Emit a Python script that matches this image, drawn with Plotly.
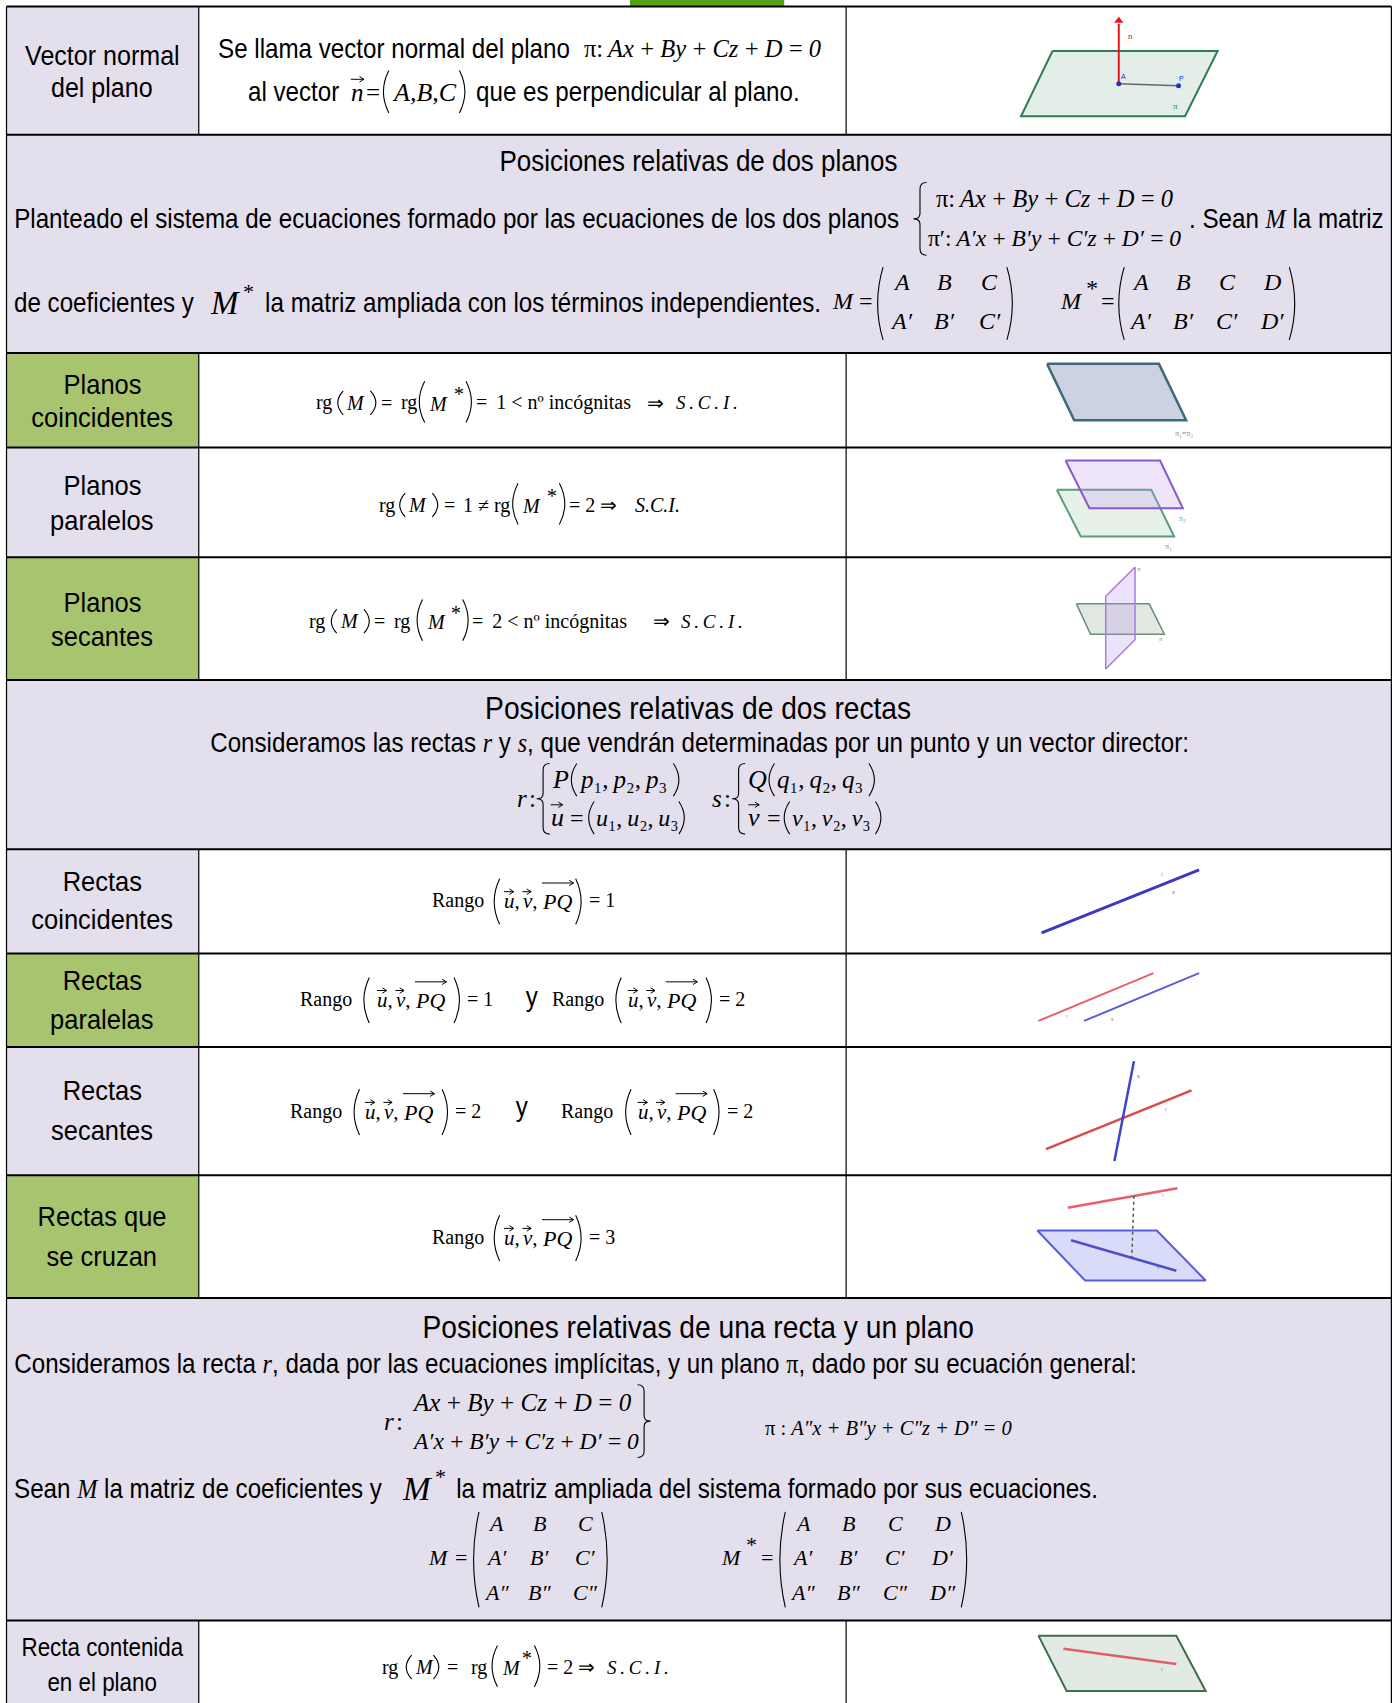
import plotly.graph_objects as go

# axis units are the 1288x1568 reading of the page
WIDTH, HEIGHT = 1399, 1703
SANS = "Liberation Sans"
SERIF = "Liberation Serif"
LAVENDER = "#E4DFEC"
GREEN = "#A9C46F"
TH = "\u2009"

ROW_EDGES = [6, 124, 325, 412, 513, 626, 782, 878, 964, 1082, 1195, 1492, 1568]
ROW_LABELS = [
    ["Vector normal", "del plano"],
    None,
    ["Planos", "coincidentes"],
    ["Planos", "paralelos"],
    ["Planos", "secantes"],
    None,
    ["Rectas", "coincidentes"],
    ["Rectas", "paralelas"],
    ["Rectas", "secantes"],
    ["Rectas que", "se cruzan"],
    None,
    ["Recta contenida", "en el plano"],
]
ROW_FILLS = ["L", "S", "G", "L", "G", "S", "L", "G", "L", "G", "S", "L"]
LABEL_Y = [[51, 81], None, [354, 384], [447, 479], [554, 586], None,
           [811, 846], [902, 938], [1004, 1040], [1120, 1156], None, [1516, 1549]]
LABEL_SIZE = [28, 0, 28.5, 28.5, 28.5, 0, 28.5, 28.5, 28.5, 28.5, 0, 25]

TITLE_PLANOS = "Posiciones relativas de dos planos"
TITLE_RECTAS = "Posiciones relativas de dos rectas"
TITLE_MIXTO = "Posiciones relativas de una recta y un plano"

# sketches: vertices
PLANE_N_X, PLANE_N_Y = [969, 1121, 1091, 940], [47, 47, 107, 107]
COINC_X, COINC_Y = [964, 1067, 1092, 989], [335, 335, 387, 387]
PAR_TOP_X, PAR_TOP_Y = [981, 1068, 1089, 1003], [424, 424, 468, 468]
PAR_LOW_X, PAR_LOW_Y = [973, 1060, 1081, 995], [451, 451, 494, 494]
SEC_H_X, SEC_H_Y = [991, 1058, 1072, 1004], [556, 556, 584, 584]
SEC_V_X, SEC_V_Y = [1045, 1045, 1018, 1018], [522, 589, 616, 549]
CRUZ_X, CRUZ_Y = [955, 1065, 1110, 999], [1133, 1133, 1179, 1179]
CONT_X, CONT_Y = [956, 1083, 1110, 982], [1506, 1506, 1557, 1557]

fig = go.Figure()


def txt(x, y, s, size=27, font=SANS, anchor="left", color="black", style="normal"):
    fig.add_annotation(x=x, y=y, text=s, showarrow=False, xanchor=anchor, yanchor="middle",
                       font=dict(family=font, size=size, color=color, style=style), borderpad=0)


def math(x, y, s, size=20, anchor="left"):
    txt(x, y, s, size=size, font=SERIF, anchor=anchor)


def ital(x, y, s, size=20, anchor="left"):
    txt(x, y, s, size=size, font=SERIF, anchor=anchor, style="italic")


def it(s):
    return '<span style="font-family:Liberation Serif;font-style:italic">%s</span>' % s


def triple(letter):
    return f"{it(letter)}₁,{TH}{it(letter)}₂,{TH}{it(letter)}₃"


def path(d, width=1.1, color="black"):
    fig.add_shape(type="path", path=d, xref="x", yref="y", line=dict(color=color, width=width))


def paren(x, y0, y1, side="l"):
    # x is the outer edge of the curve
    d = 5 if side == "l" else -5
    ym = (y0 + y1) / 2
    path(f"M {x + d} {y0} Q {x - d} {ym} {x + d} {y1}")


def brace(x, y0, y1, side="l"):
    d = 6 if side == "l" else -6
    ym = (y0 + y1) / 2
    path(f"M {x + d} {y0} Q {x} {y0} {x} {y0 + 6} L {x} {ym - 5} Q {x} {ym} {x - d} {ym} "
         f"Q {x} {ym} {x} {ym + 5} L {x} {y1 - 6} Q {x} {y1} {x + d} {y1}")


def vec(x0, x1, y):
    path(f"M {x0} {y} L {x1} {y} M {x1 - 4} {y - 2.5} L {x1} {y} L {x1 - 4} {y + 2.5}", width=1)


def poly(xs, ys, fill, stroke, width=2):
    fig.add_trace(go.Scatter(x=xs + xs[:1], y=ys + ys[:1], mode="lines", fill="toself",
                             fillcolor=fill, line=dict(color=stroke, width=width),
                             hoverinfo="skip", showlegend=False))


def seg(xs, ys, color, width=2.5, dash=None):
    fig.add_trace(go.Scatter(x=xs, y=ys, mode="lines", line=dict(color=color, width=width, dash=dash),
                             hoverinfo="skip", showlegend=False))


def rect(x0, x1, y0, y1, color):
    fig.add_shape(type="rect", x0=x0, x1=x1, y0=y0, y1=y1, fillcolor=color,
                  line_width=0, layer="below")


def hline(y, x0=6, x1=1281, width=2):
    fig.add_shape(type="line", x0=x0, x1=x1, y0=y, y1=y, line=dict(color="black", width=width))


def vline(x, y0, y1, width=1.2):
    fig.add_shape(type="line", x0=x, x1=x, y0=y0, y1=y1, line=dict(color="black", width=width))


def rango(x, y, opening, close, start, value):
    # Rango(u, v, PQ) = value
    math(x, y, "Rango", 20)
    paren(opening, y - 20, y + 22)
    math(start, y + 1, it("u") + ",", 21)
    vec(start + 1, start + 10, y - 8)
    math(start + 18, y + 1, it("v") + ",", 21)
    vec(start + 18, start + 26, y - 8)
    ital(start + 35, y + 1, "PQ", 22)
    vec(start + 36, start + 65, y - 16)
    paren(close, y - 20, y + 22, "r")
    math(close + 6, y, "= " + value, 20)


def rg_plain(xrg, xm, xclose, xeq, y):
    math(xrg, y, "rg", 20)
    paren(xm, y - 11, y + 11)
    ital(xm + 7, y, "M", 20)
    paren(xclose, y - 11, y + 11, "r")
    math(xeq, y, "=", 20)


def rg_star(xrg, xo, xc, y):
    math(xrg, y, "rg", 20)
    paren(xo, y - 20, y + 18)
    ital(xo + 8, y + 1, "M", 20)
    ital(xc - 18, y - 8, "*", 20)
    paren(xc, y - 20, y + 18, "r")


def matrix(cols, rows, entries, size=23):
    for row, y in zip(entries, rows):
        for s, x in zip(row, cols):
            ital(x, y, s, size, anchor="center")


# backgrounds
fig.add_shape(type="rect", x0=580, x1=722, y0=0, y1=6, fillcolor="#57A01A", line_width=0, layer="below")
for i, kind in enumerate(ROW_FILLS):
    y0, y1 = ROW_EDGES[i], ROW_EDGES[i + 1]
    if kind == "S":
        rect(6, 1281, y0, y1, LAVENDER)
    else:
        rect(6, 183, y0, y1, LAVENDER if kind == "L" else GREEN)
        vline(183, y0, y1)
        vline(779, y0, y1)
for y in ROW_EDGES[:-1]:
    hline(y)
vline(6, 6, 1568)
vline(1281, 6, 1568)

for labels, ys, size in zip(ROW_LABELS, LABEL_Y, LABEL_SIZE):
    if labels:
        for s, y in zip(labels, ys):
            txt(94, y, s, size=size, anchor="center")

# vector normal
txt(200, 45, "Se llama vector normal del plano")
math(537, 45, "π:" + TH + it(TH.join("Ax + By + Cz + D = 0".split())), 24.5)
txt(227, 85, "al vector")
ital(322, 85, "n", 25)
math(336, 85, "=", 25)
vec(323, 335, 73)
paren(353, 65, 104)
ital(360, 85, "A,B,C", 26)
paren(428, 65, 104, "r")
txt(437, 85, "que es perpendicular al plano.")

# dos planos
txt(643, 148, TITLE_PLANOS, size=29, anchor="center")
txt(12, 202, "Planteado el sistema de ecuaciones formado por las ecuaciones de los dos planos")
brace(847, 168, 235)
math(861, 183, "π:" + TH + it(TH.join("Ax + By + Cz + D = 0".split())), 24.5)
math(853, 219, "π′:" + TH + it(TH.join("A′x + B′y + C′z + D′ = 0".split())), 23.5)
txt(1094, 202, ". Sean " + it("M") + " la matriz")
txt(12, 279, "de coeficientes y")
ital(192, 279, "M", 33)
ital(222, 268, "*", 22)
txt(243, 279, "la matriz ampliada con los términos independientes.")
ital(765, 277, "M", 24)
math(790, 277, "=", 24)
paren(808, 246, 313)
matrix([830, 870, 911], [260, 296], [["A", "B", "C"], ["A′", "B′", "C′"]], 24)
paren(932, 246, 313, "r")
ital(975, 277, "M", 24)
ital(998, 265, "*", 24)
math(1013, 277, "=", 24)
paren(1030, 246, 313)
matrix([1050, 1090, 1130, 1171], [260, 296],
       [["A", "B", "C", "D"], ["A′", "B′", "C′", "D′"]], 24)
paren(1192, 246, 313, "r")

rg_plain(290, 311, 346, 350, 371)
rg_star(368, 386, 434, 371)
math(437, 371, "=" + TH + " 1 &lt; nº incógnitas", 20)
math(595, 371, "⇒", 20)
ital(621, 371, TH.join("S.C.I."), 19)

rg_plain(348, 368, 403, 408, 465)
math(425, 465, "1 ≠", 20)
rg_star(454, 472, 520, 465)
math(523, 465, "= 2 ⇒", 20)
ital(584, 465, "S.C.I.", 20)

rg_plain(284, 305, 340, 343, 572)
rg_star(362, 384, 431, 572)
math(434, 572, "=" + TH + " 2 &lt; nº incógnitas", 20)
math(600, 572, "⇒", 20)
ital(626, 572, TH.join("S.C.I."), 19)

# dos rectas
txt(643, 652, TITLE_RECTAS, size=31.5, anchor="center")
txt(192, 684, "Consideramos las rectas " + it("r") + " y " + it("s")
    + ", que vendrán determinadas por un punto y un vector director:")
ital(475, 735, "r", 25)
math(486, 735, ":", 25)
brace(500, 703, 768)
ital(507, 718, "P", 26)
paren(526, 703, 733)
math(532, 718, triple("p"), 25)
paren(625, 703, 733, "r")
ital(506, 753, "u", 26)
vec(507, 518, 741)
math(524, 753, "=", 24)
paren(542, 738, 768)
math(548, 753, triple("u"), 24)
paren(630, 738, 768, "r")
ital(655, 735, "s", 25)
math(666, 735, ":", 25)
brace(680, 703, 768)
ital(688, 718, "Q", 26)
paren(708, 703, 733)
math(714, 718, triple("q"), 25)
paren(805, 703, 733, "r")
ital(688, 753, "v", 26)
vec(689, 699, 741)
math(705, 753, "=", 24)
paren(722, 738, 768)
math(728, 753, triple("v"), 24)
paren(811, 738, 768, "r")

rango(397, 829, 455, 535, 463, "1")
rango(275, 920, 335, 423, 346, "1")
txt(490, 918, "y", anchor="center")
rango(507, 920, 567, 655, 577, "2")
rango(266, 1023, 326, 412, 335, "2")
txt(481, 1019, "y", anchor="center")
rango(516, 1023, 576, 662, 586, "2")
rango(397, 1139, 455, 535, 463, "3")

# recta y plano
txt(643, 1222, TITLE_MIXTO, size=31.5, anchor="center")
txt(12, 1256, "Consideramos la recta " + it("r") + ", dada por las ecuaciones implícitas, y un plano "
    + '<span style="font-family:Liberation Serif">π</span>' + ", dado por su ecuación general:")
ital(353, 1309, "r", 25)
math(364, 1309, ":", 25)
ital(378, 1291, TH.join("Ax + By + Cz + D = 0".split()), 25)
ital(378, 1327, TH.join("A′x + B′y + C′z + D′ = 0".split()), 23.5)
brace(593, 1275, 1342, "r")
math(703, 1315, "π : " + it("A″x + B″y + C″z + D″ = 0"), 20.5)
txt(12, 1371, "Sean " + it("M") + " la matriz de coeficientes y")
ital(369, 1371, "M", 33)
ital(399, 1359, "*", 22)
txt(419, 1371, "la matriz ampliada del sistema formado por sus ecuaciones.")
ital(393, 1434, "M", 22)
math(418, 1434, "=", 22)
paren(436, 1392, 1480)
matrix([457, 497, 539], [1403, 1434, 1466],
       [["A", "B", "C"], ["A′", "B′", "C′"], ["A″", "B″", "C″"]], 22)
paren(559, 1392, 1480, "r")
ital(663, 1434, "M", 22)
ital(685, 1422, "*", 22)
math(700, 1434, "=", 22)
paren(718, 1392, 1480)
matrix([739, 781, 824, 868], [1403, 1434, 1466],
       [["A", "B", "C", "D"], ["A′", "B′", "C′", "D′"], ["A″", "B″", "C″", "D″"]], 22)
paren(890, 1392, 1480, "r")

rg_plain(351, 374, 404, 411, 1535)
rg_star(433, 453, 497, 1535)
math(503, 1535, "= 2 ⇒", 20)
ital(558, 1535, TH.join("S.C.I."), 19)

# sketches
poly(PLANE_N_X, PLANE_N_Y, "#E3EEE8", "#2E7D55")
seg([1030, 1030], [77, 22], "#E8141C", 2)
fig.add_trace(go.Scatter(x=[1030], y=[19], mode="markers", hoverinfo="skip", showlegend=False,
                         marker=dict(symbol="triangle-up", size=8, color="#E8141C")))
seg([1030, 1085], [77, 79], "#666666", 1.5)
fig.add_trace(go.Scatter(x=[1030, 1085], y=[77, 79], mode="markers", hoverinfo="skip", showlegend=False,
                         marker=dict(size=5, color="#2030C0")))
txt(1041, 33, "n", size=9, font=SERIF, anchor="center", color="#E8141C")
txt(1034, 70, "A", size=7, anchor="center", color="#2030C0")
txt(1088, 72, "P", size=7, anchor="center", color="#2030C0")
txt(1082, 98, "π", size=9, font=SERIF, anchor="center", color="#2E7D55")

poly(COINC_X, COINC_Y, "#CDD2E2", "#3F6B78", 2.5)
txt(1090, 399, "π₁=π₂", size=8, font=SERIF, anchor="center", color="#8A8A8A")

poly(PAR_LOW_X, PAR_LOW_Y, "rgba(165,205,180,0.28)", "#5E9C7C")
poly(PAR_TOP_X, PAR_TOP_Y, "rgba(190,150,240,0.25)", "#8A58D0")
txt(1089, 477, "π₂", size=8, font=SERIF, anchor="center", color="#8A8A8A")
txt(1076, 503, "π₁", size=8, font=SERIF, anchor="center", color="#8A8A8A")

poly(SEC_H_X, SEC_H_Y, "rgba(170,190,170,0.35)", "#6E8C7C", 1.5)
poly(SEC_V_X, SEC_V_Y, "rgba(190,150,240,0.28)", "#A67CE0", 1.5)
txt(1049, 524, "π", size=7, font=SERIF, anchor="center", color="#8A8A8A")
txt(1069, 588, "π", size=7, font=SERIF, anchor="center", color="#8A8A8A")

seg([959, 1104], [859, 801], "#3C38C4", 3)
txt(1070, 805, "r", size=7, font=SERIF, anchor="center", color="#E89080")
txt(1080, 821, "s", size=7, font=SERIF, anchor="center", color="#6068C8")

seg([956, 1062], [940, 896], "#E8606A", 2)
seg([998, 1104], [940, 896], "#5C5CD8", 2)
txt(982, 935, "r", size=6, font=SERIF, anchor="center", color="#E89080")
txt(1024, 938, "s", size=6, font=SERIF, anchor="center", color="#6068C8")

seg([963, 1097], [1058, 1004], "#DC4850", 2.5)
seg([1044, 1026], [977, 1069], "#3C44CC", 2.5)
txt(1048, 991, "s", size=7, font=SERIF, anchor="center", color="#6068C8")
txt(1074, 1021, "r", size=7, font=SERIF, anchor="center", color="#E89080")

poly(CRUZ_X, CRUZ_Y, "#D8DCF8", "#5A5CE0")
seg([983, 1084], [1112, 1094], "#E8606A", 2.5)
seg([986, 1083], [1142, 1170], "#4C50C8", 2.5)
seg([1044, 1042], [1101, 1158], "#555555", 1.5, "dot")
txt(1071, 1100, "r", size=6, font=SERIF, anchor="center", color="#E89080")
txt(1067, 1167, "s", size=6, font=SERIF, anchor="center", color="#6068C8")

poly(CONT_X, CONT_Y, "#E2EAE4", "#3F6F4A")
seg([979, 1083], [1518, 1532], "#E0606A", 2.5)
txt(1070, 1537, "r", size=6, font=SERIF, anchor="center", color="#8A8A8A")

fig.update_layout(
    width=WIDTH, height=HEIGHT,
    margin=dict(l=0, r=0, t=0, b=0),
    paper_bgcolor="white", plot_bgcolor="white",
    xaxis=dict(range=[0, 1288], visible=False, fixedrange=True),
    yaxis=dict(range=[1568, 0], visible=False, fixedrange=True),
    showlegend=False,
)

# no narrow face is installed, so the sans text is squeezed sideways
SQUEEZE = """
document.body.style.margin='0';document.body.style.overflow='hidden';
var gd=document.getElementById('{plot_id}');
function squeeze(){
  gd.querySelectorAll('.annotation').forEach(function(a){
    var ann=gd.layout.annotations[+a.getAttribute('data-index')];
    if(!ann||ann.font.family!=='Liberation Sans'||ann.font.size<10) return;
    var t=a.querySelector('text'), b=t.getBBox();
    var cx=ann.xanchor==='left'?b.x:b.x+b.width/2;
    t.setAttribute('transform','translate('+cx+',0) scale(0.895,1) translate('+(-cx)+',0)');
  });
}
squeeze();gd.on('plotly_afterplot',squeeze);
"""
fig.write_html("out.html", config={"displayModeBar": False}, post_script=SQUEEZE)
